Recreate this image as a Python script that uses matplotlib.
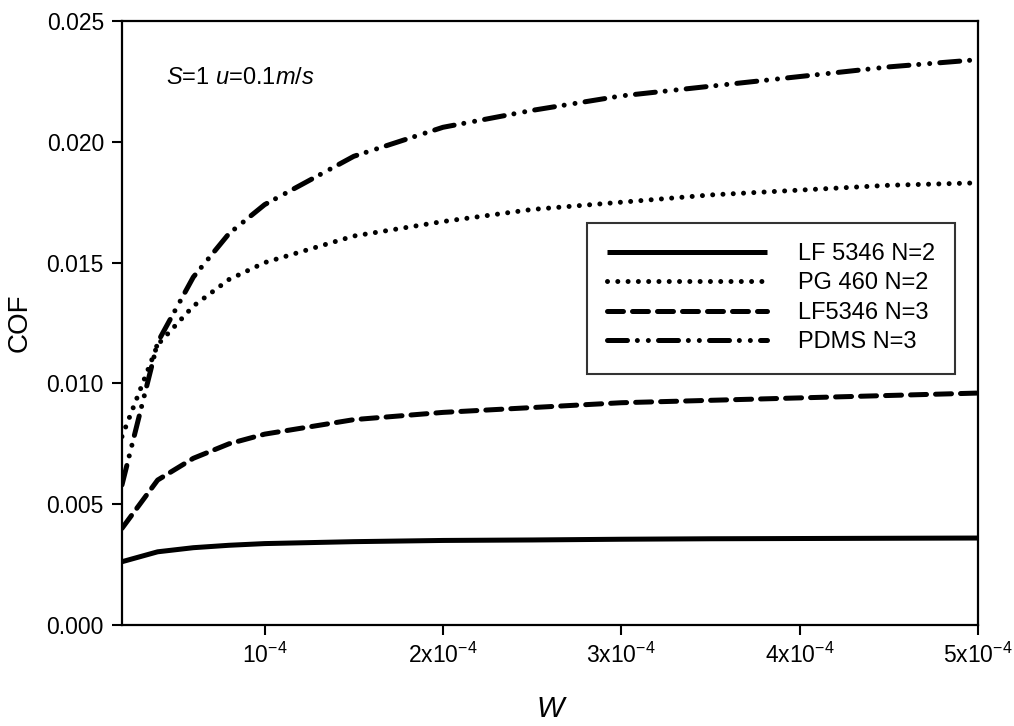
import matplotlib
matplotlib.use("Agg")
from matplotlib import pyplot as plt

plt.rcParams["font.family"] = ["Liberation Sans", "DejaVu Sans"]
plt.rcParams["mathtext.fontset"] = "custom"
plt.rcParams["mathtext.rm"] = "Liberation Sans"
plt.rcParams["mathtext.it"] = "Liberation Sans:italic"
plt.rcParams["lines.scale_dashes"] = False

# load parameter W and the friction coefficient of each lubricant
w = [2e-5, 4e-5, 6e-5, 8e-5, 1e-4, 1.5e-4, 2e-4, 2.5e-4, 3e-4, 3.5e-4, 4e-4, 4.5e-4, 5e-4]
lf5346_n2 = [0.00262, 0.00303, 0.00320, 0.00330, 0.00337, 0.00345, 0.00350,
             0.00352, 0.00355, 0.00357, 0.00358, 0.00359, 0.00360]
pg460_n2 = [0.0078, 0.0116, 0.0132, 0.0143, 0.0150, 0.0161, 0.0167,
            0.0172, 0.0175, 0.0178, 0.0180, 0.0182, 0.0183]
lf5346_n3 = [0.0040, 0.0060, 0.0069, 0.0075, 0.0079, 0.0085, 0.0088,
             0.0090, 0.0092, 0.0093, 0.0094, 0.0095, 0.0096]
pdms_n3 = [0.0058, 0.0117, 0.0144, 0.0162, 0.0174, 0.0194, 0.0206,
           0.0213, 0.0219, 0.0223, 0.0227, 0.0231, 0.0234]

labels = ["LF 5346 N=2", "PG 460 N=2", "LF5346 N=3", "PDMS N=3"]

x_ticks = [1e-4, 2e-4, 3e-4, 4e-4, 5e-4]
x_ticklabels = ["10$^{-4}$", "2x10$^{-4}$", "3x10$^{-4}$", "4x10$^{-4}$", "5x10$^{-4}$"]
y_ticks = [0.000, 0.005, 0.010, 0.015, 0.020, 0.025]

fig = plt.figure(figsize=(10.14, 7.26), dpi=100)
ax = fig.add_axes([0.1203, 0.1391, 0.8442, 0.8320])

lw = 3.6
ax.plot(w, lf5346_n2, color="black", lw=lw, solid_capstyle="butt", label=labels[0])
ax.plot(w, pg460_n2, color="black", lw=lw, dashes=(0.01, 7.4),
        dash_capstyle="round", label=labels[1])
ax.plot(w, lf5346_n3, color="black", lw=lw, dashes=(11.5, 6.5),
        dash_capstyle="round", label=labels[2])
ax.plot(w, pdms_n3, color="black", lw=lw, dashes=(14.4, 7.1, 0.01, 7.9, 0.01, 7.3),
        dash_capstyle="round", label=labels[3])

ax.set_xlim(2e-5, 5e-4)
ax.set_ylim(0, 0.025)
ax.set_xticks(x_ticks)
ax.set_xticklabels(x_ticklabels)
ax.set_yticks(y_ticks)
ax.set_yticklabels([f"{v:.3f}" for v in y_ticks])
ax.tick_params(direction="out", length=7, width=1.5, labelsize=16.5, pad=6)
for spine in ax.spines.values():
    spine.set_linewidth(1.6)

ax.set_xlabel("W", fontsize=21, style="italic", labelpad=19)
ax.set_ylabel("COF", fontsize=20, labelpad=10)

ax.text(0.052, 0.905, "$S$=1 $u$=0.1$m/s$", transform=ax.transAxes,
        fontsize=17, va="center", ha="left")

leg = ax.legend(loc="upper left", bbox_to_anchor=(0.543, 0.666), borderaxespad=0,
                fontsize=17, handlelength=6.8, handletextpad=1.3, labelspacing=0.32,
                fancybox=False, frameon=True, borderpad=0.85)
leg.get_frame().set_edgecolor("black")
leg.get_frame().set_linewidth(1.5)

fig.savefig("out.png", dpi=100)
